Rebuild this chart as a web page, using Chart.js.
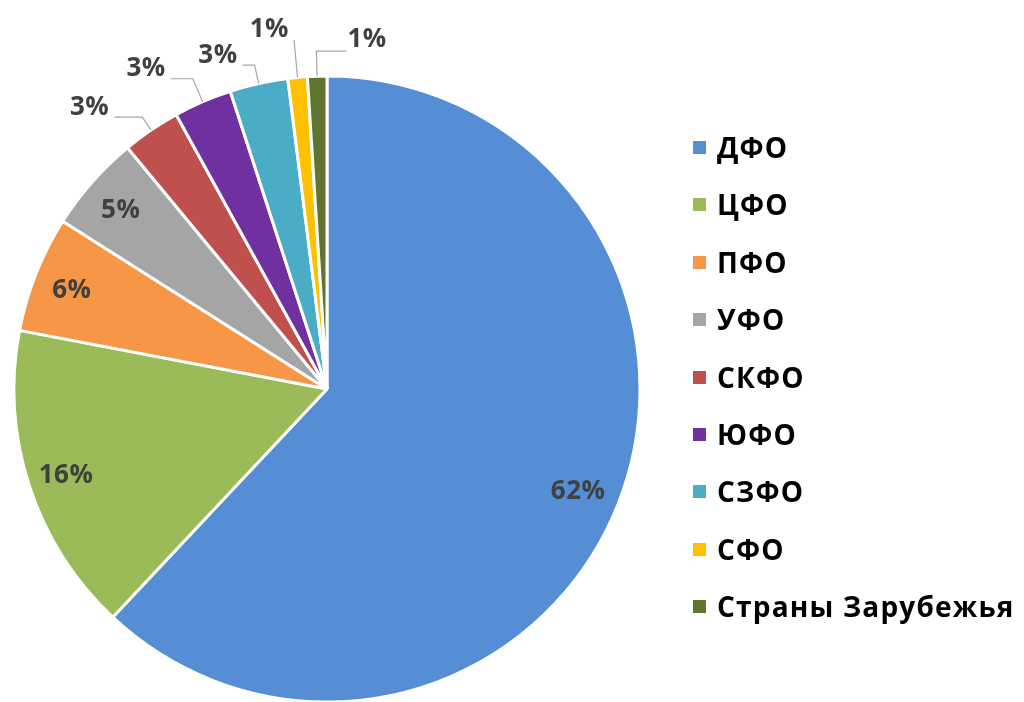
<!DOCTYPE html>
<html>
<head>
<meta charset="utf-8">
<script src="https://cdn.jsdelivr.net/npm/chart.js@4"></script>
<style>
    html, body { margin: 0; padding: 0; background: #fff; overflow: hidden; }
    #wrap { position: relative; width: 1024px; height: 702px; }
    #legend { position: absolute; left: 693px; top: 148px; margin: 0; padding: 0; list-style: none;
              font-family: "Open Sans", sans-serif; font-weight: bold; font-size: 28px; letter-spacing: 1.2px; color: #000; }
    #legend li { position: relative; height: 57.4px; }
    #legend li span.box { position: absolute; left: 0; top: -7px; width: 13px; height: 13px; }
    #legend li span.txt { position: absolute; left: 24px; top: -20px; line-height: 38px; white-space: nowrap; }
</style>
</head>
<body>
<div id="wrap">
    <canvas id="pieChart" width="1024" height="702"></canvas>
    <ul id="legend"></ul>
</div>
<script>
const regions = ["ДФО", "ЦФО", "ПФО", "УФО", "СКФО", "ЮФО", "СЗФО", "СФО", "Страны Зарубежья"];
const shares = [62, 16, 6, 5, 3, 3, 3, 1, 1];
const colors = ["#558ed5", "#9bbb59", "#f79646", "#a5a5a5", "#c0504d", "#7030a0", "#4bacc6", "#ffc000", "#5f7530"];

// leader lines for the small slices: elbow radius factor and horizontal run
const leaders = [null, null, null, null,
    { k: 1.05, run: -28 }, { k: 1.08, run: -22 }, { k: 1.06, run: -12 },
    { k: 1.12, run: 0 }, { k: 1.08, run: 30 }];

const labelPlugin = {
    id: "pctLabels",
    afterDatasetsDraw(chart) {
        const ctx = chart.ctx;
        const meta = chart.getDatasetMeta(0);
        const total = shares.reduce((a, b) => a + b, 0);
        ctx.save();
        ctx.font = "bold 26px 'Open Sans', sans-serif";
        ctx.letterSpacing = "0.5px";
        ctx.fillStyle = "#404040";
        ctx.strokeStyle = "#a6a6a6";
        ctx.lineWidth = 1.2;
        meta.data.forEach((arc, i) => {
            const p = arc.getProps(["x", "y", "startAngle", "endAngle", "outerRadius"], true);
            const mid = (p.startAngle + p.endAngle) / 2;
            const text = Math.round(shares[i] / total * 100) + "%";
            const cos = Math.cos(mid), sin = Math.sin(mid);
            const ld = leaders[i];
            if (!ld) {
                const r = p.outerRadius * 0.87;
                ctx.textAlign = "center";
                ctx.textBaseline = "middle";
                ctx.fillText(text, p.x + cos * r - 2, p.y + sin * r + 2);
                return;
            }
            const x0 = p.x + cos * p.outerRadius, y0 = p.y + sin * p.outerRadius;
            const x1 = p.x + cos * p.outerRadius * ld.k, y1 = p.y + sin * p.outerRadius * ld.k;
            const x2 = x1 + ld.run;
            ctx.beginPath();
            ctx.moveTo(x0, y0);
            ctx.lineTo(x1, y1);
            ctx.lineTo(x2, y1);
            ctx.stroke();
            ctx.textBaseline = "middle";
            if (ld.run > 0) {
                ctx.textAlign = "left";
                ctx.fillText(text, x2 + 1, y1 - 12);
            } else {
                ctx.textAlign = "right";
                ctx.fillText(text, x2 - 5, y1 - 10);
            }
        });
        ctx.restore();
    }
};

function renderChart() {
    const ctx = document.getElementById("pieChart").getContext("2d");

    new Chart(ctx, {
        type: "pie",
        data: {
            labels: regions,
            datasets: [{
                data: shares,
                backgroundColor: colors,
                borderColor: "#ffffff",
                borderWidth: 3
            }]
        },
        options: {
            responsive: false,
            animation: false,
            radius: 313,
            layout: { padding: { left: 14, top: 76, right: 384, bottom: 0 } },
            plugins: {
                legend: { display: false },
                tooltip: { enabled: false }
            }
        },
        plugins: [labelPlugin]
    });
}

function renderLegend() {
    const ul = document.getElementById("legend");
    regions.forEach((name, i) => {
        const li = document.createElement("li");
        li.innerHTML = `<span class="box" style="background:${colors[i]}"></span><span class="txt">${name}</span>`;
        ul.appendChild(li);
    });
}

document.addEventListener("DOMContentLoaded", () => {
    renderChart();
    renderLegend();
});
</script>
</body>
</html>
